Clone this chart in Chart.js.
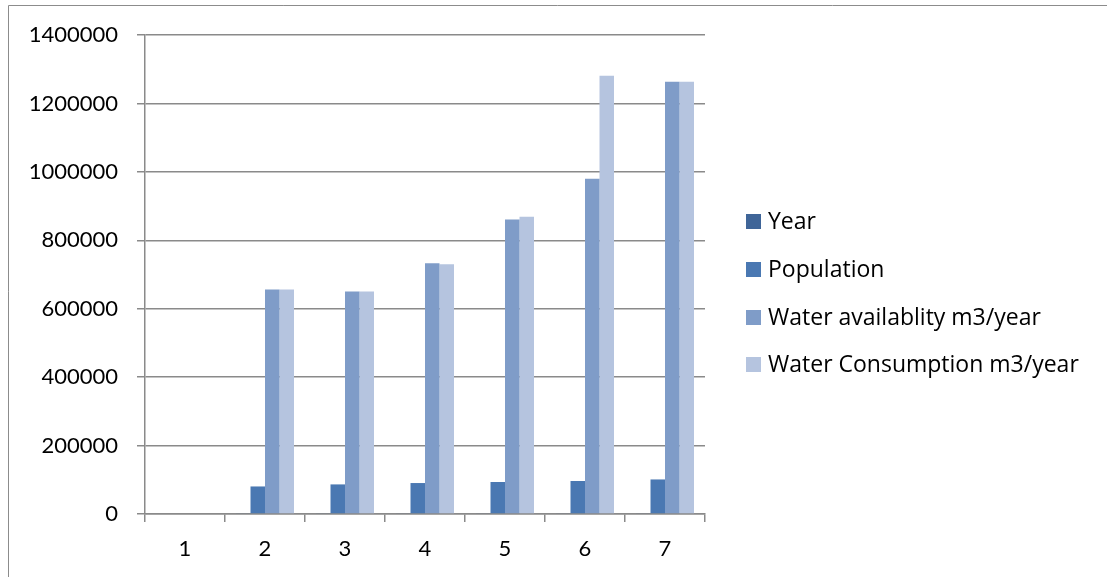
<!DOCTYPE html>
<html>
<head>
<meta charset="utf-8">
<script src="https://cdn.jsdelivr.net/npm/chart.js@4/dist/chart.umd.min.js"></script>
<style>
  html, body { margin: 0; padding: 0; background: #ffffff; }
  #wrap { width: 1107px; height: 577px; position: relative; }
</style>
</head>
<body>
<div id="wrap"><canvas id="chart" width="1107" height="577"></canvas></div>
<script>
// Categories along the x axis
const categories = ['1', '2', '3', '4', '5', '6', '7'];

// Series values
const yearValues        = [null, 2011, 2016, 2021, 2026, 2031, 2036];
const populationValues  = [null, 80500, 86500, 90500, 93500, 96500, 101000];
const availabilityValues = [null, 656000, 650000, 733000, 861000, 980000, 1263000];
const consumptionValues  = [null, 656000, 650000, 730000, 869000, 1281000, 1263000];

// Series names
const seriesNames = ['Year', 'Population', 'Water availablity m3/year', 'Water Consumption m3/year'];

// Value axis ticks
const yTicks = [0, 200000, 400000, 600000, 800000, 1000000, 1200000, 1400000];

const colors = ['#3F6598', '#4A78B2', '#7F9CC8', '#B5C4DF'];
const FONT = 'Lato, "Open Sans", sans-serif';
const LEGEND_FONT = '"Open Sans", Lato, sans-serif';
const AXIS_GREY = '#8A8A8A';

// Thin frame along the top and left of the canvas
const framePlugin = {
  id: 'frame',
  beforeDraw(chart) {
    const ctx = chart.ctx;
    ctx.save();
    ctx.strokeStyle = '#8C8C8C';
    ctx.lineWidth = 1;
    ctx.beginPath();
    ctx.moveTo(8.5, chart.height);
    ctx.lineTo(8.5, 5.5);
    ctx.lineTo(chart.width, 5.5);
    ctx.stroke();
    ctx.restore();
  }
};

// Vertical legend to the right of the plot
const sideLegend = {
  id: 'sideLegend',
  afterDraw(chart) {
    const ctx = chart.ctx;
    const x = 746, y0 = 221.5, step = 47.8, box = 15;
    ctx.save();
    ctx.font = '23px ' + LEGEND_FONT;
    ctx.textBaseline = 'middle';
    ctx.textAlign = 'left';
    chart.data.datasets.forEach((ds, i) => {
      const y = y0 + i * step;
      ctx.fillStyle = ds.backgroundColor;
      ctx.fillRect(x, Math.round(y - box / 2), box, box);
      ctx.fillStyle = '#000000';
      ctx.fillText(ds.label, x + 22, y + 1);
    });
    ctx.restore();
  }
};

const datasets = [yearValues, populationValues, availabilityValues, consumptionValues].map((vals, i) => ({
  label: seriesNames[i],
  data: vals,
  backgroundColor: colors[i],
  borderWidth: 0,
  categoryPercentage: 0.725,
  barPercentage: 1.0
}));

new Chart(document.getElementById('chart'), {
  type: 'bar',
  data: { labels: categories, datasets },
  plugins: [framePlugin, sideLegend],
  options: {
    responsive: false,
    animation: false,
    layout: { padding: { left: 0, top: 35, right: 402, bottom: 0 } },
    plugins: {
      legend: { display: false },
      tooltip: { enabled: false }
    },
    scales: {
      x: {
        grid: {
          display: true,
          drawOnChartArea: false,
          drawTicks: true,
          tickLength: 8,
          color: AXIS_GREY,
          lineWidth: 1.5,
          offset: true
        },
        border: { display: true, color: AXIS_GREY, width: 1.5 },
        ticks: {
          color: '#000000',
          font: { family: FONT, size: 22 },
          padding: 14,
          maxRotation: 0
        },
        afterFit(scale) { scale.height = 63; }
      },
      y: {
        min: 0,
        max: 1400000,
        afterBuildTicks(scale) { scale.ticks = yTicks.map(v => ({ value: v })); },
        grid: {
          display: true,
          drawOnChartArea: true,
          drawTicks: true,
          tickLength: 8,
          color: AXIS_GREY,
          lineWidth: 1.5
        },
        border: { display: true, color: AXIS_GREY, width: 1.5 },
        ticks: {
          color: '#000000',
          font: { family: FONT, size: 22 },
          padding: 19,
          callback: v => String(v)
        },
        afterFit(scale) { scale.width = 145; }
      }
    }
  }
});
</script>
</body>
</html>
